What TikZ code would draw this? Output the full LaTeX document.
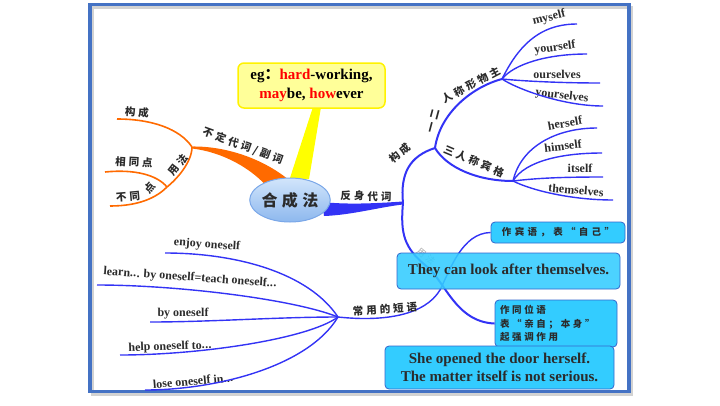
\documentclass[tikz,border=0pt]{standalone}
\usepackage{fontspec}
\setmainfont{Liberation Serif}
\newfontfamily\cjk{Noto Sans CJK SC}
\newfontfamily\cjksp{Noto Sans CJK SC}[LetterSpace=28]
\newfontfamily\cjkwide{Noto Sans CJK SC}[LetterSpace=35]
\usetikzlibrary{shapes.geometric,backgrounds}
\definecolor{Frame}{HTML}{4472C4}
\definecolor{Branch}{HTML}{3333F5}
\definecolor{Orange}{HTML}{FF6A00}
\definecolor{Cyan}{HTML}{33CCFF}
\definecolor{BoxLine}{HTML}{3366CC}
\definecolor{Note}{HTML}{FFFF99}
\definecolor{NoteLine}{HTML}{FFF200}
\definecolor{Pointer}{HTML}{FFFF00}
\definecolor{Ink}{HTML}{2B2B2B}
\definecolor{Hub}{HTML}{8DB8EE}
\definecolor{HubTop}{HTML}{D2E5FB}
\definecolor{HubLine}{HTML}{7AA7E8}
\newcommand\threedots{.\kern0.3pt.\kern0.3pt.}

\begin{document}
\begin{tikzpicture}[x=1pt, y=-1pt,
    hub/.style={ellipse, draw=HubLine, line width=1pt, top color=HubTop, bottom color=Hub,
      minimum width=74pt, minimum height=44pt, inner sep=0pt,
      font=\cjksp\bfseries\fontsize{16}{17}\selectfont, text=Ink},
    note/.style={draw=NoteLine, line width=1.5pt, fill=Note, rounded corners=6pt,
      minimum width=147pt, minimum height=45pt, inner sep=0pt, align=center,
      font=\bfseries\fontsize{15}{19}\selectfont},
    cn/.style={font=\cjksp\bfseries\fontsize{10.5}{12}\selectfont, text=Ink, inner sep=0pt},
    leaf/.style={font=\bfseries\fontsize{12}{13}\selectfont, text=Ink, inner sep=0pt},
    twig/.style={draw=Branch, line width=1.4pt},
    limb/.style={draw=Branch, line width=2pt},
    otwig/.style={draw=Orange, line width=1.6pt},
    card/.style={fill=Cyan, draw=BoxLine, line width=0.8pt, rounded corners=4pt,
      inner sep=0pt, text=Ink}]
  \useasboundingbox (0,0) rectangle (720,405);
  % frame
  \draw[gray!35, line width=3pt] (92.5,7.5) rectangle (631.5,394);
  \draw[Frame, line width=3.5pt] (90,4.5) rectangle (629,391.5);

  % junctions
  \coordinate (root) at (403,203);
  \coordinate (jBuild) at (435,148);
  \coordinate (jOne) at (502,79);
  \coordinate (jThree) at (513,181);
  \coordinate (jPhr) at (338,317);
  \coordinate (oRoot) at (192,147);
  \coordinate (oUse) at (167,187);
  \coordinate (oBuild) at (117,119);
  \coordinate (oSame) at (105,172);
  \coordinate (oDiff) at (110,206);

  % pointer and thick branches
  \fill[Pointer] (313,107) -- (321,107) -- (309,179) -- (289,181) -- cycle;
  \fill[Orange] (192,146.5) .. controls (225,146) and (262,158) .. (289,180)
    -- (270,190) .. controls (252,168) and (222,152) .. (192,148.5) -- cycle;
  \fill[Branch] (322,202) .. controls (350,205) and (380,203) .. (403,201.5)
    -- (403,204.5) .. controls (380,207) and (352,215) .. (324,216) -- cycle;
  \node[hub] (hub) at (290,200) {合成法};
  \node[note] (note) at (311.5,85.5)
    {eg{\cjk ：}\textcolor{red}{hard}-working,\\\textcolor{red}{may}be, \textcolor{red}{how}ever};

  % orange side
  \draw[otwig] (oRoot) .. controls +(-12,-18) and +(35,0) .. (oBuild);
  \draw[otwig] (oRoot) .. controls +(0,15) and +(10,-8) .. (oUse);
  \draw[otwig] (oUse) .. controls +(-10,-12) and +(30,-3) .. (oSame);
  \draw[otwig] (oUse) .. controls +(-10,10) and +(30,0) .. (oDiff);
  \node[cn, rotate=-20] (lblPron) at (243,146) {不定代词/副词};
  \node[cn, rotate=-3] (lblOBuild) at (137,112) {构成};
  \node[cn, rotate=52] (lblOUse) at (178,165) {用法};
  \node[cn, rotate=-3] (lblSame) at (134,162) {相同点};
  \node[cn, rotate=5] (lblDiff) at (128,197) {不同};
  \node[cn, rotate=50] (lblDiffB) at (150,188) {点};

  % blue side
  \draw[limb] (root) .. controls +(-3,-30) and +(-25,8) .. (jBuild);
  \draw[limb] (jBuild) .. controls +(5,-35) and +(-30,8) .. (jOne);
  \draw[limb] (jBuild) .. controls +(12,20) and +(-35,0) .. (jThree);
  \node[cn, rotate=-2] (lblReflex) at (366,196) {反身代词};
  \node[cn, rotate=40] (lblBuild) at (400,153) {构成};
  \node[cn, rotate=75] (lblOneTwo) at (433,121) {一二};
  \node[cn, rotate=28] (lblPoss) at (471,85) {人称形物主};
  \node[cn, rotate=-23] (lblObj) at (474,161) {三人称宾格};
  \node[cn, rotate=4] (lblPhr) at (385,309) {常用的短语};

  \foreach \nm/\txt/\ex/\ey/\ax/\ay/\tx/\ty/\rot/\j in {
      my/myself/577/24/15/-30/549/18/14/jOne,
      your/yourself/587/54/12/-15/555/48/8/jOne,
      ours/ourselves/600/83/20/2/557/74/0/jOne,
      yours/yourselves/603/106/15/10/562/96/-7/jOne,
      her/herself/597/128/8/-35/565/123/10/jThree,
      him/himself/602/153/12/-20/563/146/7/jThree,
      it/itself/603/177/25/-3/580/168/0/jThree,
      them/themselves/613/200/20/10/576/190/-5/jThree} {
    \coordinate (e\nm) at (\ex,\ey);
    \node[leaf, rotate=\rot] (t\nm) at (\tx,\ty) {\txt};
    \draw[twig] (\j) .. controls +(\ax,\ay) and +(-40,0) .. (e\nm);
  }

  % phrases
  \foreach \nm/\txt/\ex/\ey/\ax/\ay/\bx/\tx/\ty/\rot in {
      enjoy/enjoy oneself/165/253/-30/-45/70/207/245/-4,
      learn/learn\threedots{} by oneself=teach oneself\threedots/97/285/-45/-18/80/190/278/-4,
      by/by oneself/150/322/-60/0/60/183/314/0,
      help/help oneself to\threedots/120/355/-30/22/80/170/347/2,
      lose/lose oneself in\threedots/145/390/-30/50/70/193/381/5} {
    \coordinate (p\nm) at (\ex,\ey);
    \node[leaf, rotate=\rot] (q\nm) at (\tx,\ty) {\txt};
    \draw[twig] (jPhr) .. controls +(\ax,\ay) and +(\bx,0) .. (p\nm);
  }

  % usage boxes
  \node[card, minimum width=134pt, minimum height=21pt,
    font=\cjkwide\bfseries\fontsize{9.5}{10}\selectfont] (objBox) at (558,232.5) {作宾语，表“自己”};
  \node[card, fill opacity=0.88, text opacity=1, minimum width=223pt, minimum height=36pt,
    font=\bfseries\fontsize{15}{16}\selectfont] (objEx) at (508.5,271) {They can look after themselves.};
  \node[card, minimum width=122pt, minimum height=47pt, text width=112pt, align=left,
    font=\cjksp\bfseries\fontsize{9.5}{13.5}\selectfont] (appBox) at (556,323.5) {作同位语\\表“亲自；本身”\\起强调作用};
  \node[card, minimum width=229pt, minimum height=43pt, align=center,
    font=\bfseries\fontsize{15}{18}\selectfont] (appEx) at (499.5,367.5)
    {She opened the door herself.\\The matter itself is not serious.};

  \begin{pgfonlayer}{background}
    \draw[limb] (root) .. controls (400,235) and (405,248) .. (425,265)
      .. controls (445,280) and (455,322) .. (appBox.west);
    \draw[twig] (jPhr) .. controls (385,322) and (425,315) .. (440,290)
      .. controls (450,270) and (462,233) .. (objBox.west);
    \node[cn, text=Ink!40, font=\cjksp\fontsize{9}{10}\selectfont, rotate=-40] (lblUse) at (426,256) {用法};
  \end{pgfonlayer}
\end{tikzpicture}
\end{document}
